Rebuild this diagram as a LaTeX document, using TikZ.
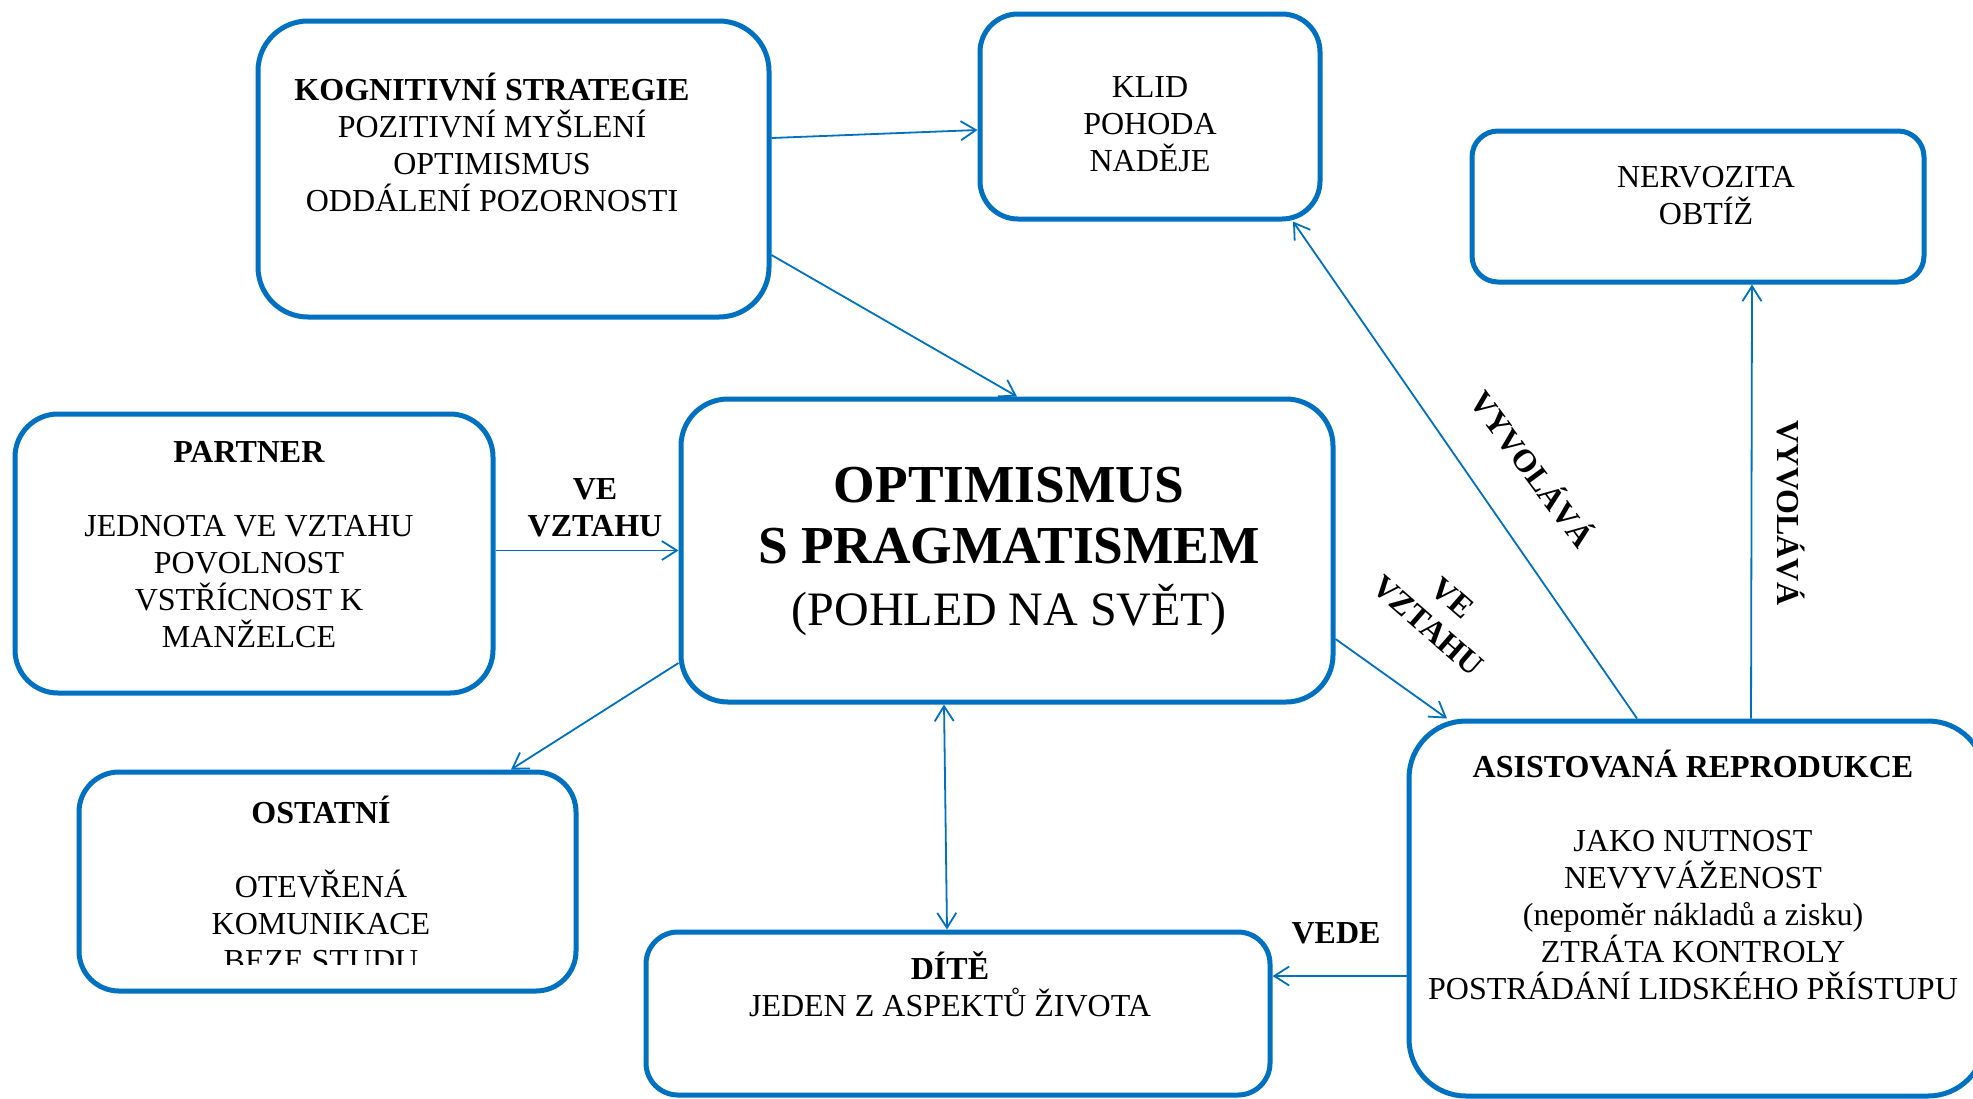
\documentclass[tikz,border=0pt]{standalone}
\usepackage{fontspec}
\setmainfont{Liberation Serif}
\usetikzlibrary{arrows.meta,calc}
\definecolor{bblue}{HTML}{0070C0}
\newcommand\fst{\rule{0pt}{15pt}}
\begin{document}
\begin{tikzpicture}[x=0.5pt,y=-0.5pt,
  box/.style={draw=bblue,line width=2.5pt,inner sep=0pt,fill=white},
  txt/.style={font=\fontsize{16}{18.5}\selectfont,align=center,inner sep=0pt,anchor=north},
  lbl/.style={font=\fontsize{16}{18.5}\selectfont\bfseries,align=center,inner sep=0pt},
  ttl/.style={font=\fontsize{26.7}{31}\selectfont\bfseries,inner sep=0pt,anchor=base},
  tip/.style={Straight Barb[length=7.5pt,width=9.5pt]},
  conn/.style={draw=bblue,line width=0.9pt,-{Straight Barb[length=7.5pt,width=9.5pt]}},
]
\useasboundingbox (0,0) rectangle (1973,1098);
\clip (0,0) rectangle (1973,1098);

% boxes
\node[box,rounded corners=25pt,minimum width=255.5pt,minimum height=148pt] (kog) at (513.5,169) {};
\node[box,rounded corners=19pt,minimum width=170pt,minimum height=102.5pt] (klid) at (1150,116.5) {};
\node[box,rounded corners=13pt,minimum width=226pt,minimum height=75.5pt] (nerv) at (1698,206.5) {};
\node[box,rounded corners=21.5pt,minimum width=239pt,minimum height=139.5pt] (partner) at (254,553.5) {};
\node[box,rounded corners=23.5pt,minimum width=326pt,minimum height=151.5pt] (opt) at (1007,550.5) {};
\node[box,rounded corners=20pt,minimum width=248.5pt,minimum height=109.5pt] (ost) at (327.5,881.5) {};
\node[box,rounded corners=16pt,minimum width=312pt,minimum height=81.5pt] (dite) at (958,1013.5) {};
\node[box,rounded corners=28.5pt,minimum width=288pt,minimum height=187.5pt] (asist) at (1697,908.5) {};

% connectors
\draw[conn] ($(kog.east)+(0,-31)$) -- ($(klid.west)+(0,13.5)$);
\draw[conn] ($(kog.east)+(0,86)$) -- ($(opt.north)+(10,0)$);
\draw[conn] (partner.east |- opt.west) -- (opt.west);
\draw[conn] ($(opt.west)+(0,112.5)$) -- ($(ost.north)+(183.5,0)$);
\draw[conn,{Straight Barb[length=7.5pt,width=9.5pt]}-{Straight Barb[length=7.5pt,width=9.5pt]}] ($(opt.south)+(-63,0)$) -- ($(dite.north)+(-11,0)$);
\draw[conn] ($(opt.east)+(0,88.5)$) -- ($(asist.north)+(-250,0)$);
\draw[conn] ($(asist.north)+(-60,0)$) -- ($(klid.south)+(143,0)$);
\draw[conn] ($(asist.north)+(54,0)$) -- ($(nerv.south)+(54,0)$);
\draw[conn] ($(asist.west)+(0,67.5)$) -- ($(dite.east)+(0,-37.5)$);

% box texts
\node[txt] (kogt) at (492,70) {\fst\textbf{KOGNITIVNÍ STRATEGIE}\\POZITIVNÍ MYŠLENÍ\\OPTIMISMUS\\ODDÁLENÍ POZORNOSTI};
\node[txt] (klidt) at (1150,67) {\fst KLID\\POHODA\\NADĚJE};
\node[txt] (nervt) at (1706,157) {\fst NERVOZITA\\OBTÍŽ};
\node[txt] (partnert) at (249,432) {\fst\textbf{PARTNER}\\[18.5pt]JEDNOTA VE VZTAHU\\POVOLNOST\\VSTŘÍCNOST K\\MANŽELCE};
\begin{scope}
\clip (0,0) rectangle (1973,964);
\node[txt] (ostt) at (321,793) {\fst\textbf{OSTATNÍ}\\[18.5pt]OTEVŘENÁ\\KOMUNIKACE\\BEZE STUDU};
\end{scope}
\node[txt] (ditet) at (950,949) {\fst\textbf{DÍTĚ}\\JEDEN Z ASPEKTŮ ŽIVOTA};
\node[txt] (asistt) at (1693,747) {\fst\textbf{ASISTOVANÁ REPRODUKCE}\\[18.5pt]JAKO NUTNOST\\NEVYVÁŽENOST\\(nepoměr nákladů a zisku)\\ZTRÁTA KONTROLY\\POSTRÁDÁNÍ LIDSKÉHO PŘÍSTUPU};

% title
\node[ttl] (t1) at (1009,502) {OPTIMISMUS};
\node[ttl] (t2) at (1009,563) {S PRAGMATISMEM};
\node[ttl,font=\fontsize{24}{29}\selectfont] (t3) at (1009,625) {(POHLED NA SVĚT)};

% labels
\node[lbl,anchor=north] (ve1) at (595,469) {\fst VE\\VZTAHU};
\node[lbl,anchor=base] (vede) at (1336,943) {VEDE};
\node[lbl,rotate=-53.5] (vyv1) at (1534,468) {VYVOLÁVÁ};
\node[lbl,rotate=-90] (vyv2) at (1791,513) {VYVOLÁVÁ};
\node[lbl,rotate=-41] (ve2) at (1440,612) {VE\\VZTAHU};
\end{tikzpicture}
\end{document}
